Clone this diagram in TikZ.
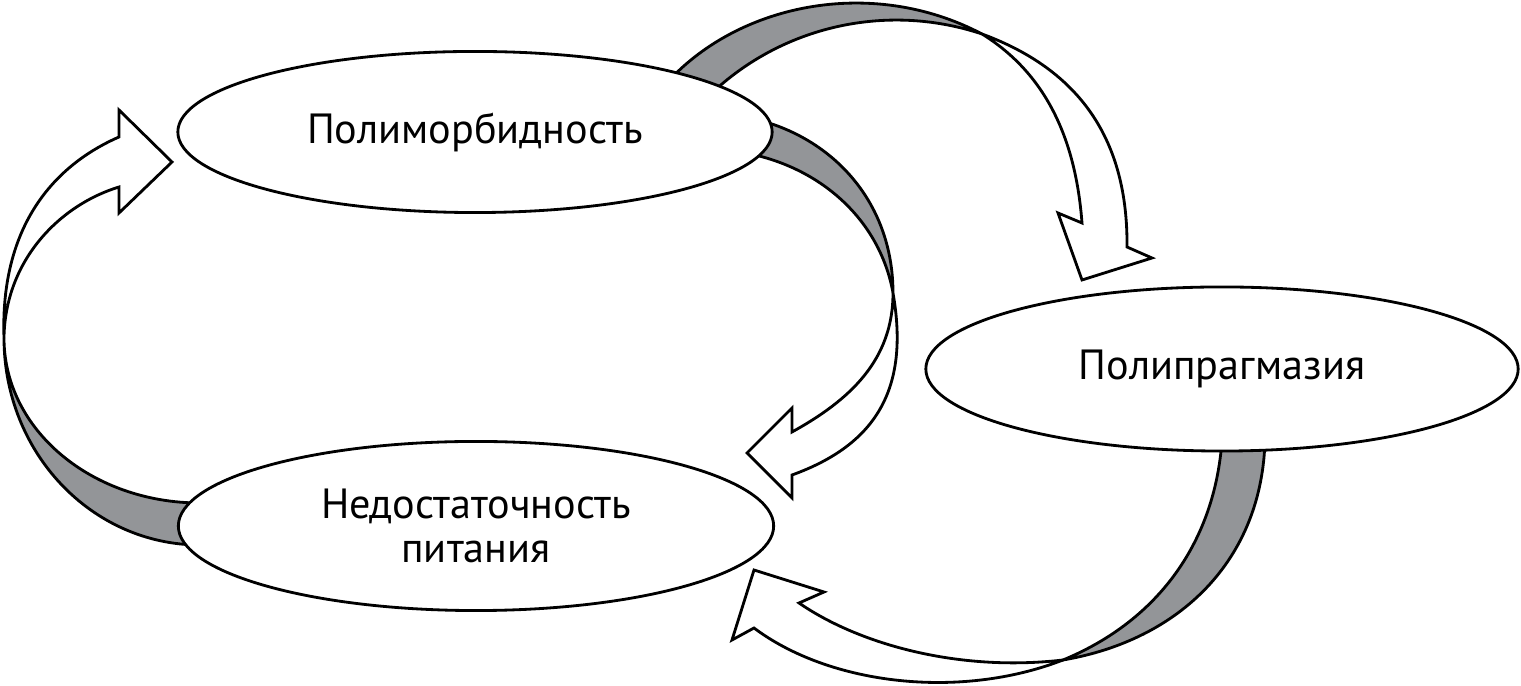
\documentclass[tikz,border=0pt]{standalone}
\usepackage{fontspec}
\setmainfont{PT Sans}
\usepackage{tikz}
\usetikzlibrary{shapes.geometric, backgrounds}
\definecolor{ribbongray}{HTML}{939598}
\tikzstyle{topicbox} = [ellipse, draw=black, fill=white, line width=0.8pt, inner sep=0pt,
  minimum width=5.94cm, minimum height=1.61cm, align=center, font=\fontsize{12}{12.5}\selectfont]
\tikzstyle{ribbonback} = [draw=black, fill=ribbongray, line width=0.8pt, line join=miter]
\tikzstyle{ribbonfront} = [draw=black, fill=white, line width=0.8pt, line join=miter]

\begin{document}
\begin{tikzpicture}[x=0.01cm, y=-0.01cm]
  \useasboundingbox (0,0) rectangle (1521,686);

  % Topics
  \node (morb) [topicbox] at (475,132) {Полиморбидность};
  \node (prag) [topicbox, minimum width=5.92cm, minimum height=1.64cm] at (1222,369) {Полипрагмазия};
  \node (nutr) [topicbox, minimum width=5.95cm, minimum height=1.69cm] at (476,526) {Недостаточность\\питания};

  % Twists and tips
  \coordinate (tw1) at (4,338);
  \coordinate (tip1) at (172,162);
  \coordinate (tw2) at (982,34);
  \coordinate (tip2) at (1082,280);
  \coordinate (tw3) at (893,293);
  \coordinate (tip3) at (747,453);
  \coordinate (tw4) at (1063,660);
  \coordinate (tip4) at (754,570);

  \begin{pgfonlayer}{background}
    % Nutrition -> Polymorbidity
    \filldraw[ribbonback] ([shift={(-276,19)}]nutr.center) .. controls (92,545) and (4,453) .. (tw1)
      .. controls (4,430) and (92,503) .. ([shift={(-276,-23)}]nutr.center) -- cycle;
    \filldraw[ribbonfront] (tw1) .. controls (0,225) and (55,165) .. (119,137)
      -- (119,110) -- (tip1) -- (119,213) -- (119,187)
      .. controls (60,205) and (5,260) .. (tw1) -- cycle;

    % Polymorbidity -> Polypragmasy
    \filldraw[ribbonback] ([shift={(190,-47)}]morb.center) .. controls (735,5) and (870,-25) .. (tw2)
      .. controls (880,0) and (770,30) .. ([shift={(225,-27)}]morb.center) -- cycle;
    \filldraw[ribbonfront] (tw2) .. controls (1080,70) and (1128,140) .. (1127,247)
      -- (1152,258) -- (tip2) -- (1058,213) -- (1082,223)
      .. controls (1075,130) and (1040,70) .. (tw2) -- cycle;

    % Polymorbidity -> Nutrition
    \filldraw[ribbonback] ([shift={(275,-14)}]morb.center) .. controls (830,135) and (893,200) .. (tw3)
      .. controls (880,220) and (820,165) .. ([shift={(265,20)}]morb.center) -- cycle;
    \filldraw[ribbonfront] (tw3) .. controls (910,390) and (875,445) .. (792,475)
      -- (792,498) -- (tip3) -- (792,408) -- (792,432)
      .. controls (850,400) and (893,360) .. (tw3) -- cycle;

    % Polypragmasy -> Nutrition
    \filldraw[ribbonback] ([shift={(0,71)}]prag.center) .. controls (1215,540) and (1160,620) .. (tw4)
      .. controls (1180,640) and (1262,560) .. ([shift={(43,71)}]prag.center) -- cycle;
    \filldraw[ribbonfront] (tw4) .. controls (960,672) and (860,645) .. (799,603)
      -- (824,592) -- (tip4) -- (732,640) -- (754,628)
      .. controls (830,685) and (960,700) .. (tw4) -- cycle;
  \end{pgfonlayer}
\end{tikzpicture}
\end{document}
